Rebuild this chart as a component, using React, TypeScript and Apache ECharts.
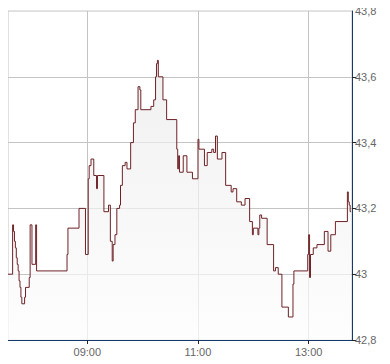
import React, { useEffect, useRef } from "react";
import * as echarts from "echarts";

const times: string[] = [
  "07:34", "07:39", "07:40", "07:41", "07:42", "07:43", "07:44", "07:45", "07:46", "07:47", "07:48", "07:49",
  "07:52", "07:53", "07:57", "07:58", "08:00", "08:04", "08:05", "08:38", "08:39", "08:51", "08:58",
  "09:01", "09:02", "09:04", "09:07", "09:10", "09:11", "09:18", "09:23", "09:25", "09:27", "09:28", "09:30",
  "09:32", "09:35", "09:36", "09:38", "09:41", "09:43", "09:47", "09:50", "09:52", "09:55", "09:57", "09:58",
  "10:09", "10:12", "10:14", "10:15", "10:16", "10:17", "10:22", "10:26", "10:37", "10:38", "10:39", "10:40",
  "10:44", "10:48", "10:54", "11:00", "11:01", "11:07", "11:10", "11:15", "11:17", "11:19", "11:21", "11:26",
  "11:30", "11:36", "11:38", "11:42", "11:47", "11:51", "11:56", "11:59", "12:00", "12:05", "12:06", "12:07",
  "12:09", "12:15", "12:22", "12:24", "12:27", "12:31", "12:38", "12:43", "12:44", "12:59", "13:00", "13:01",
  "13:02", "13:05", "13:09", "13:17", "13:21", "13:24", "13:29", "13:42", "13:43", "13:44", "13:45", "13:46",
];

const prices: number[] = [
  43.0, 43.15, 43.13, 43.1, 43.08, 43.05, 43.03, 43.01, 42.98, 42.96, 42.93, 42.91,
  42.93, 42.96, 42.99, 43.15, 43.03, 43.15, 43.01, 43.06, 43.14, 43.2, 43.06,
  43.29, 43.33, 43.35, 43.3, 43.26, 43.3, 43.19, 43.21, 43.1, 43.04, 43.09, 43.12,
  43.2, 43.21, 43.27, 43.33, 43.34, 43.32, 43.4, 43.46, 43.5, 43.57, 43.56, 43.5,
  43.51, 43.53, 43.6, 43.64, 43.65, 43.6, 43.53, 43.47, 43.38, 43.32, 43.36, 43.31,
  43.36, 43.31, 43.29, 43.41, 43.38, 43.33, 43.37, 43.38, 43.37, 43.42, 43.35, 43.37,
  43.27, 43.25, 43.26, 43.22, 43.21, 43.23, 43.16, 43.12, 43.14, 43.12, 43.14, 43.18,
  43.17, 43.09, 43.01, 43.02, 43.0, 42.9, 42.87, 42.97, 43.01, 43.06, 43.12, 42.99,
  43.06, 43.08, 43.09, 43.13, 43.07, 43.12, 43.16, 43.25, 43.22, 43.21, 43.19, 43.19,
];

const xTickLabels: string[] = ["09:00", "11:00", "13:00"];
const yTickValues: number[] = [42.8, 43.0, 43.2, 43.4, 43.6];
const xStart = "07:34";
const xEnd = "13:47";
const yMin = 42.8;
const yMax = 43.8;
const yStep = 0.2;

const toMin = (t: string) => {
  const [h, m] = t.split(":").map(Number);
  return h * 60 + m;
};
const fmtMin = (v: number) => {
  const h = Math.floor(v / 60);
  const m = Math.round(v - h * 60);
  return String(h).padStart(2, "0") + ":" + String(m).padStart(2, "0");
};

export default function App() {
  const ref = useRef<HTMLDivElement>(null);
  useEffect(() => {
    if (!ref.current) return;
    const chart = echarts.init(ref.current, undefined, { renderer: "svg" });
    const tickVals = xTickLabels.map(toMin);
    const labelColor = "#666666";
    const axisColor = "#17386b";
    const gridColor = "#c4c4c4";
    chart.setOption({
      animation: false,
      grid: {
        left: 8,
        right: 38,
        top: 11,
        bottom: 24,
        show: true,
        borderColor: gridColor,
        borderWidth: 1,
        backgroundColor: "transparent",
      },
      xAxis: {
        type: "value",
        min: toMin(xStart),
        max: toMin(xEnd),
        axisLine: { show: true, onZero: false, lineStyle: { color: axisColor, width: 1 } },
        axisTick: {
          show: true,
          length: 4,
          customValues: tickVals,
          lineStyle: { color: "#222222" },
        },
        axisLabel: {
          customValues: tickVals,
          formatter: (v: number) => fmtMin(v),
          color: labelColor,
          fontFamily: "Liberation Sans, Arial, sans-serif",
          fontSize: 11,
          margin: 6,
        },
        splitLine: { show: true, lineStyle: { color: gridColor, width: 1 } },
      },
      yAxis: {
        type: "value",
        position: "right",
        min: yMin,
        max: yMax,
        interval: yStep,
        axisLine: { show: true, onZero: false, lineStyle: { color: axisColor, width: 1 } },
        axisTick: {
          show: true,
          length: 4,
          customValues: yTickValues,
          lineStyle: { color: "#222222" },
        },
        axisLabel: {
          formatter: (v: number) => String(+v.toFixed(1)).replace(".", ","),
          color: labelColor,
          fontFamily: "Liberation Sans, Arial, sans-serif",
          fontSize: 11,
          margin: 3,
        },
        splitLine: { show: true, lineStyle: { color: gridColor, width: 1 } },
      },
      series: [
        {
          type: "line",
          step: "end",
          symbol: "none",
          data: times.map((t, i) => [toMin(t), prices[i]]),
          lineStyle: { color: "#6e2226", width: 1 },
          areaStyle: {
            origin: "start",
            color: new echarts.graphic.LinearGradient(0, 0, 0, 1, [
              { offset: 0, color: "#eaeaea" },
              { offset: 1, color: "#fdfdfd" },
            ]),
          },
        },
      ],
    });
    return () => chart.dispose();
  }, []);
  return <div ref={ref} style={{ width: 390, height: 364, margin: -8 }} />;
}
